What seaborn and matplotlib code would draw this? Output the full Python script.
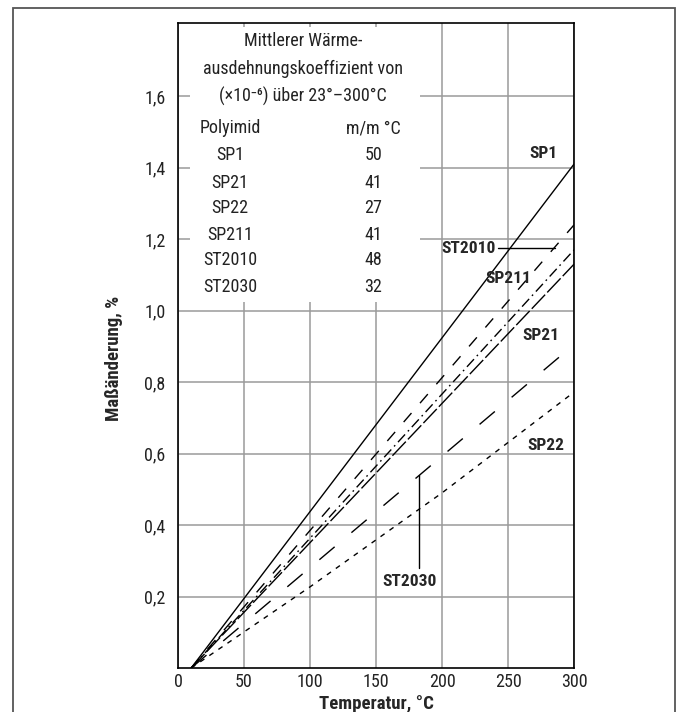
import matplotlib
matplotlib.use("Agg")
import matplotlib.pyplot as plt
from matplotlib import font_manager as fm
from matplotlib.patches import Rectangle
import pandas as pd
import seaborn as sns

# Maßänderung (%) der Polyimide über der Temperatur (°C)
temps = [10, 300]
sp1 = [0.0, 1.41]
st2010 = [0.0, 1.24]
sp211 = [0.0, 1.17]
sp21 = [0.0, 1.13]
st2030 = [0.0, 0.905]
sp22_temps = [10, 100, 200, 300]
sp22 = [0.0, 0.227, 0.49, 0.772]

# Tabelle: mittlerer Wärmeausdehnungskoeffizient
polyimide = ["SP1", "SP21", "SP22", "SP211", "ST2010", "ST2030"]
koeff = [50, 41, 27, 41, 48, 32]

x_ticks = [0, 50, 100, 150, 200, 250, 300]
y_ticks = [0.2, 0.4, 0.6, 0.8, 1.0, 1.2, 1.4, 1.6]
y_tick_labels = ["0,2", "0,4", "0,6", "0,8", "1,0", "1,2", "1,4", "1,6"]

series = {
    "SP1": (temps, sp1),
    "ST2010": (temps, st2010),
    "SP211": (temps, sp211),
    "SP21": (temps, sp21),
    "ST2030": (temps, st2030),
    "SP22": (sp22_temps, sp22),
}
rows = []
for name, (xs, ys) in series.items():
    for x, y in zip(xs, ys):
        rows.append({"Temperatur": x, "Maßänderung": y, "Polyimid": name})
df = pd.DataFrame(rows)

dash_styles = {
    "SP1": "",
    "ST2010": (8.6, 9.4),
    "SP211": (7.5, 3.0, 1.2, 3.0),
    "SP21": (14.0, 2.2),
    "ST2030": (14.4, 15.8),
    "SP22": (3.6, 4.3),
}

sns.set_theme(style="white")

# schmale Grotesk, falls vorhanden
available = {f.name for f in fm.fontManager.ttflist}
narrow = [n for n in ["Roboto Condensed", "Archivo Narrow", "Liberation Sans Narrow",
                      "Nimbus Sans Narrow", "Barlow Semi Condensed"] if n in available]
plt.rcParams["font.family"] = narrow[:1] + ["Liberation Sans", "DejaVu Sans"]
FS = 13
FS_BOLD = 12.5
FS_AXIS = 13.5

fig = plt.figure(figsize=(6.82, 7.12), dpi=100)
ax = fig.add_axes([178 / 682, 1 - 668 / 712, (574 - 178) / 682, (668 - 23) / 712])

sns.lineplot(data=df, x="Temperatur", y="Maßänderung", style="Polyimid",
             dashes=dash_styles, color="black", linewidth=1.0,
             legend=False, ax=ax, zorder=3)

ax.set_xlim(0, 300)
ax.set_ylim(0, 1.805)
ax.set_xticks(x_ticks)
ax.set_xticklabels([str(t) for t in x_ticks], fontsize=FS)
ax.set_yticks(y_ticks)
ax.set_yticklabels(y_tick_labels, fontsize=FS)
ax.tick_params(axis="both", length=0, colors="#222222")
ax.tick_params(axis="y", pad=9)
ax.tick_params(axis="x", pad=3.5)
ax.set_axisbelow(True)
ax.grid(True, color="#9a9a9a", linewidth=1.1)
for sp in ax.spines.values():
    sp.set_color("black")
    sp.set_linewidth(1.2)

ax.set_xlabel("Temperatur, °C", fontsize=FS_AXIS, fontweight="bold")
ax.set_ylabel("Maßänderung, %", fontsize=FS_AXIS, fontweight="bold")
ax.xaxis.set_label_coords(0.5, -0.042)
ax.yaxis.set_label_coords(-0.14, 0.48)

# Tabellenfeld über dem Raster
ax.add_patch(Rectangle((9, 1.024), 174, 0.77, facecolor="white",
                       edgecolor="none", zorder=1))
head = ["Mittlerer Wärme-", "ausdehnungskoeffizient von",
        "(×10⁻⁶) über 23°–300°C"]
for txt, yy in zip(head, [1.754, 1.676, 1.600]):
    ax.text(94.7, yy, txt, ha="center", va="center", fontsize=FS, color="#222222", zorder=4)
ax.text(39.4, 1.51, "Polyimid", ha="center", va="center", fontsize=FS, color="#222222", zorder=4)
ax.text(148, 1.51, "m/m °C", ha="center", va="center", fontsize=FS, color="#222222", zorder=4)
row_y = [1.435, 1.357, 1.287, 1.211, 1.141, 1.066]
for name, k, yy in zip(polyimide, koeff, row_y):
    ax.text(39.4, yy, name, ha="center", va="center", fontsize=FS, color="#222222", zorder=4)
    ax.text(148, yy, str(k), ha="center", va="center", fontsize=FS, color="#222222", zorder=4)

# Kurvenbeschriftungen
lab = dict(ha="center", va="center", fontsize=FS_BOLD, fontweight="bold", zorder=5)
ax.text(277, 1.44, "SP1", **lab)
ax.text(220.5, 1.175, "ST2010", **lab)
ax.plot([242.5, 285.5], [1.175, 1.175], color="black", lw=1.0, zorder=4)
ax.text(250.4, 1.09, "SP211", **lab)
ax.text(274.6, 0.931, "SP21", **lab)
ax.text(279, 0.624, "SP22", **lab)
ax.text(175.4, 0.241, "ST2030", **lab)
ax.plot([182.6, 182.6], [0.28, 0.54], color="black", lw=1.0, zorder=4)

# Rahmen um die Abbildung
fig.add_artist(Rectangle((13 / 682, -0.05), (675 - 13) / 682, 1 - 8 / 712 + 0.05,
                         transform=fig.transFigure, fill=False,
                         edgecolor="#555555", linewidth=1.3))

fig.savefig("out.png", dpi=100)
